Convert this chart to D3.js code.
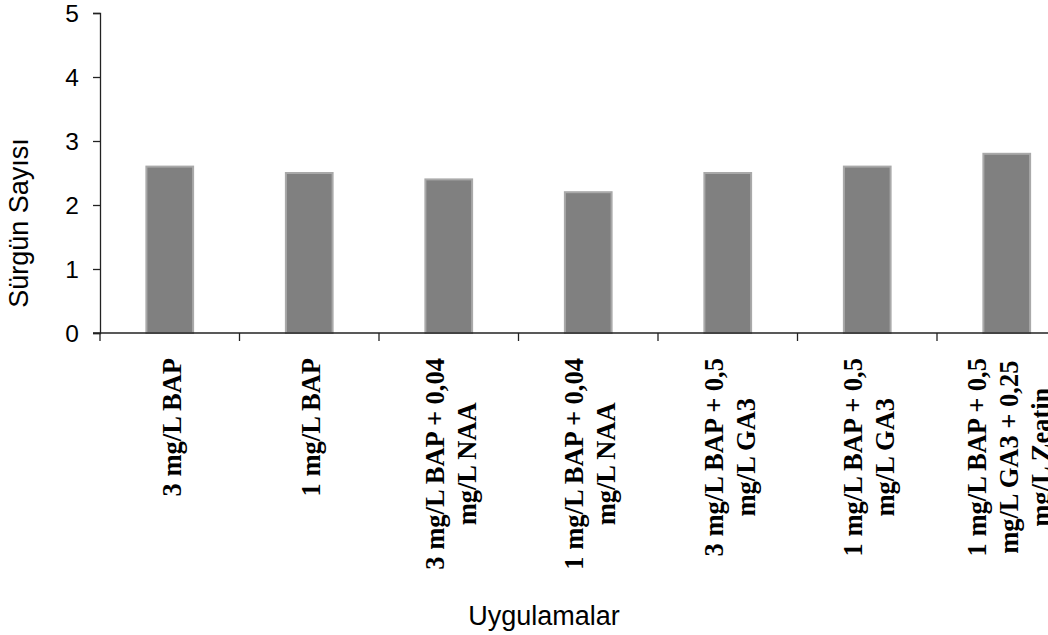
<!DOCTYPE html>
<html>
<head>
<meta charset="utf-8">
<script src="https://cdn.jsdelivr.net/npm/d3@7"></script>
<style>
  html, body { margin: 0; padding: 0; background: #fff; }
  svg { display: block; }
</style>
</head>
<body>
<svg id="chart" width="1048" height="635"></svg>
<script>
const categories = [
  "3 mg/L BAP",
  "1 mg/L BAP",
  "3 mg/L BAP + 0,04 mg/L NAA",
  "1 mg/L BAP + 0,04 mg/L NAA",
  "3 mg/L BAP + 0,5 mg/L GA3",
  "1 mg/L BAP + 0,5 mg/L GA3",
  "1 mg/L BAP + 0,5 mg/L GA3 + 0,25 mg/L Zeatin"
];
const labelLines = [
  ["3 mg/L BAP"],
  ["1 mg/L BAP"],
  ["3 mg/L BAP + 0,04", "mg/L NAA"],
  ["1 mg/L BAP + 0,04", "mg/L NAA"],
  ["3 mg/L BAP + 0,5", "mg/L GA3"],
  ["1 mg/L BAP + 0,5", "mg/L GA3"],
  ["1 mg/L BAP + 0,5", "mg/L GA3 + 0,25", "mg/L Zeatin"]
];
const values = [2.6, 2.5, 2.4, 2.2, 2.5, 2.6, 2.8];
const yTicks = [0, 1, 2, 3, 4, 5];
const yTitle = "Sürgün Sayısı";
const xTitle = "Uygulamalar";

const svg = d3.select("#chart");
const mLeft = 100, mTop = 13, mBottom = 333;
const step = 139.5;
const mRight = mLeft + step * categories.length;

const x = d3.scaleBand().domain(categories).range([mLeft, mRight]).paddingInner(0).paddingOuter(0);
const y = d3.scaleLinear().domain([0, 5]).range([mBottom, mTop]);
const barW = x.bandwidth() * 0.335;

// bars
svg.append("g").selectAll("rect").data(categories).join("rect")
  .attr("x", d => x(d) + (x.bandwidth() - barW) / 2)
  .attr("y", (d, i) => y(values[i]))
  .attr("width", barW)
  .attr("height", (d, i) => y(0) - y(values[i]))
  .attr("fill", "#808080")
  .attr("stroke", "#a9a9a9")
  .attr("stroke-width", 2);

// y axis
const yAxis = svg.append("g").attr("transform", `translate(${mLeft},0)`)
  .call(d3.axisLeft(y).tickValues(yTicks).tickSize(7).tickPadding(14).tickFormat(d3.format("d")));
yAxis.select(".domain").attr("stroke", "#222").attr("stroke-width", 1.3);
yAxis.selectAll(".tick line").attr("stroke", "#222").attr("stroke-width", 1.3);
yAxis.selectAll(".tick text").attr("font-family", "Liberation Sans, Arial, sans-serif")
  .attr("font-size", 24.5).attr("fill", "#000").attr("dy", "0.36em");

// x axis line
svg.append("line").attr("x1", mLeft - 7).attr("x2", 1048).attr("y1", y(0)).attr("y2", y(0))
  .attr("stroke", "#222").attr("stroke-width", 1.3);
const edges = categories.map(c => x(c)).concat([mRight]);
svg.append("g").selectAll("line").data(edges).join("line")
  .attr("x1", d => d).attr("x2", d => d)
  .attr("y1", y(0)).attr("y2", y(0) + 8)
  .attr("stroke", "#222").attr("stroke-width", 1.3);

// category labels
const labelTop = 358, lineGap = 32;
const lg = svg.append("g");
categories.forEach((c, i) => {
  const lines = labelLines[i];
  const cx = x(c) + x.bandwidth() / 2 + 2;
  const g = lg.append("g").attr("transform", `translate(${cx},0) rotate(-90)`);
  const texts = lines.map((t, j) => g.append("text")
    .attr("font-family", "Liberation Serif, Times New Roman, serif")
    .attr("font-weight", "bold")
    .attr("font-size", 26.5)
    .attr("text-anchor", "middle")
    .attr("dominant-baseline", "central")
    .attr("y", (j - (lines.length - 1) / 2) * lineGap)
    .text(t));
  const maxLen = d3.max(texts, t => t.node().getComputedTextLength());
  texts.forEach(t => t.attr("x", -(labelTop + maxLen / 2)));
});

// axis titles
svg.append("text")
  .attr("transform", `translate(28,223) rotate(-90)`)
  .attr("text-anchor", "middle")
  .attr("font-family", "Liberation Sans, Arial, sans-serif")
  .attr("font-size", 27)
  .text(yTitle);

svg.append("text")
  .attr("x", 544).attr("y", 625)
  .attr("text-anchor", "middle")
  .attr("font-family", "Liberation Sans, Arial, sans-serif")
  .attr("font-size", 27)
  .text(xTitle);
</script>
</body>
</html>
